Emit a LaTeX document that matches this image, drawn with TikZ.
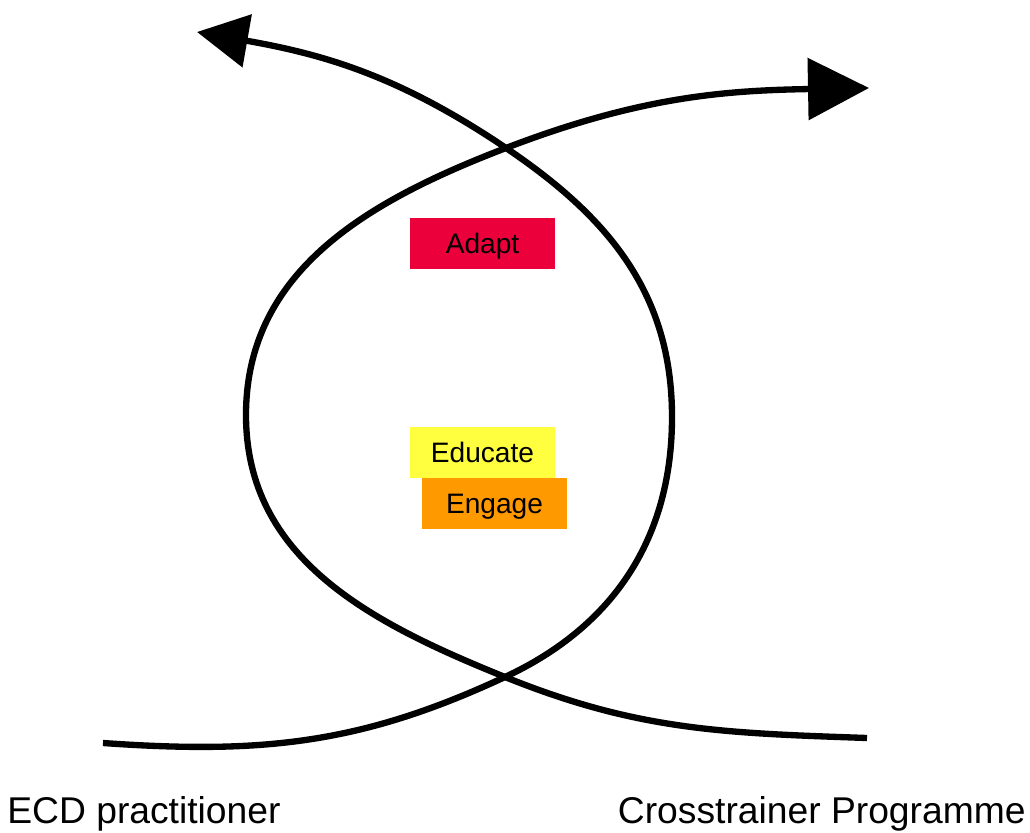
\documentclass[tikz,border=0pt]{standalone}
\usepackage{fontspec}
\setmainfont{Liberation Sans}
\usetikzlibrary{arrows.meta}

\definecolor{adaptred}{RGB}{236,0,60}
\definecolor{educateyellow}{RGB}{255,255,64}
\definecolor{engageorange}{RGB}{255,153,0}

\begin{document}
\begin{tikzpicture}[x=0.02cm, y=0.02cm,
  stroke/.style={line width=3.6pt},
  tag/.style={rectangle, minimum width=2.9cm, minimum height=1.02cm, inner sep=0pt,
    text height=11.5pt, text depth=0pt, font=\fontsize{16}{18}\selectfont},
  side/.style={inner sep=0pt, font=\fontsize{21.2}{25}\selectfont}]
  \useasboundingbox (0,0) rectangle (1030,832);

  % ends, crossings and turning points of the two strokes
  \coordinate (s1) at (103,89);
  \coordinate (s2) at (867,94);
  \coordinate (x1) at (505,155);
  \coordinate (x2) at (506,684);
  \coordinate (l)  at (246,417);
  \coordinate (r)  at (672,415);
  \coordinate (t1) at (197,800);
  \coordinate (t2) at (869,744);

  \draw[stroke, -{Triangle[length=1.02cm, width=1.05cm]}]
    (s1) to[out=-4, in=205] (x1) to[out=25, in=-90] (r)
         to[out=90, in=-34] (x2) to[out=146, in=-10] (t1);
  \draw[stroke, -{Triangle[length=1.22cm, width=1.22cm]}]
    (s2) to[out=178, in=-22] (x1) to[out=158, in=-90] (l)
         to[out=90, in=201] (x2) to[out=21, in=181] (t2);

  \node (adapt)   [tag, fill=adaptred]      at (482.5,588.5) {Adapt};
  \node (educate) [tag, fill=educateyellow] at (482.5,379.5) {Educate};
  \node (engage)  [tag, fill=engageorange]  at (494.5,328.5) {Engage};

  \node (ecd)   [side, anchor=base west] at (7,9)    {ECD practitioner};
  \node (cross) [side, anchor=base east] at (1026,9) {Crosstrainer Programme};
\end{tikzpicture}
\end{document}
